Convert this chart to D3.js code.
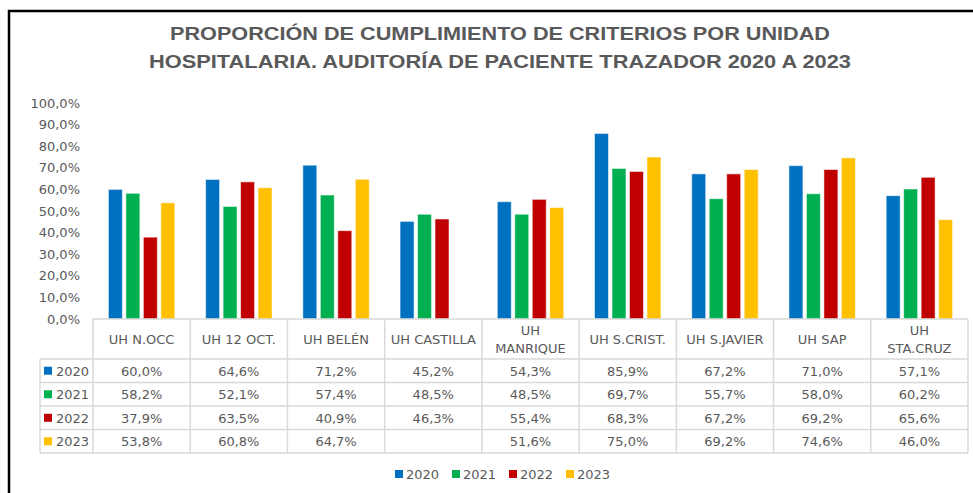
<!DOCTYPE html>
<html>
<head>
<meta charset="utf-8">
<script src="https://cdn.jsdelivr.net/npm/d3@7"></script>
<style>
  body { margin: 0; background: #fff; }
  svg text { font-family: "DejaVu Sans", sans-serif; fill: #595959; }
</style>
</head>
<body>
<div class="svg_container"></div>
<script>
const WIDTH = 973;
const HEIGHT = 493;

// data
var categories = ["UH N.OCC", "UH 12 OCT.", "UH BELÉN", "UH CASTILLA", "UH\nMANRIQUE",
                  "UH S.CRIST.", "UH S.JAVIER", "UH SAP", "UH\nSTA.CRUZ"];
var years = ["2020", "2021", "2022", "2023"];
var values2020 = [60.0, 64.6, 71.2, 45.2, 54.3, 85.9, 67.2, 71.0, 57.1];
var values2021 = [58.2, 52.1, 57.4, 48.5, 48.5, 69.7, 55.7, 58.0, 60.2];
var values2022 = [37.9, 63.5, 40.9, 46.3, 55.4, 68.3, 67.2, 69.2, 65.6];
var values2023 = [53.8, 60.8, 64.7, null, 51.6, 75.0, 69.2, 74.6, 46.0];
var yTicks = [0, 10, 20, 30, 40, 50, 60, 70, 80, 90, 100];
var titleLines = ["PROPORCIÓN DE CUMPLIMIENTO DE CRITERIOS POR UNIDAD",
                  "HOSPITALARIA. AUDITORÍA DE PACIENTE TRAZADOR 2020 A 2023"];

var seriesValues = [values2020, values2021, values2022, values2023];
var colors = ["#0070C0", "#00B050", "#C00000", "#FFC000"];
var gridColor = "#d9d9d9";

var esLocale = d3.formatLocale({decimal: ",", thousands: ".", grouping: [3], currency: ["", "€"]});
var fmt = esLocale.format(".1f");
var pct = function(v) { return fmt(v) + "%"; };

var translate = function(x, y) {
  return "translate(" + x + "," + y + ")";
};

var _xScale = d3.scaleBand().domain(categories).range([93, 968]);
var _innerScale = d3.scaleBand().domain(years).range([0, _xScale.bandwidth()])
                    .paddingInner(0.2).paddingOuter(0.88);
var _yScale = d3.scaleLinear().domain([0, 100]).range([319, 103]);
var _rowScale = d3.scaleBand().domain(years).range([359, 453]);

var svg = d3.select('.svg_container').append('svg')
  .attr('width', WIDTH)
  .attr('height', HEIGHT);

// frame lines (top and left)
svg.append('path')
  .attr('d', "M9,493V11H973")
  .attr('fill', 'none')
  .attr('stroke', '#000')
  .attr('stroke-width', 2.5);

// title
svg.append('g').selectAll('text')
  .data(titleLines).enter().append('text')
  .attr('x', 500)
  .attr('y', function(d, i) { return 39.5 + i * 28; })
  .attr('text-anchor', 'middle')
  .style('font-family', '"Liberation Sans", sans-serif')
  .style('font-weight', 'bold')
  .style('font-size', '19px')
  .attr('textLength', function(d, i) { return i == 0 ? 660 : 702; })
  .attr('lengthAdjust', 'spacingAndGlyphs')
  .text(function(d) { return d; });

// y axis
var yAxis = d3.axisLeft(_yScale)
  .tickValues(yTicks)
  .tickSize(0)
  .tickPadding(13)
  .tickFormat(pct);

var yg = svg.append('g')
  .attr('transform', translate(93, 0))
  .call(yAxis);
yg.select('.domain').remove();
yg.selectAll('text')
  .style('font-family', '"DejaVu Sans", sans-serif')
  .style('font-size', '13px')
  .attr('fill', '#595959');

// bars
years.forEach(function(year, s) {
  svg.append('g').selectAll('rect')
    .data(seriesValues[s].map(function(v, i) { return {c: categories[i], v: v}; })
          .filter(function(d) { return d.v != null; }))
    .enter().append('rect')
    .attr('x', function(d) { return _xScale(d.c) + _innerScale(year); })
    .attr('y', function(d) { return _yScale(d.v); })
    .attr('width', _innerScale.bandwidth())
    .attr('height', function(d) { return _yScale(0) - _yScale(d.v); })
    .attr('fill', colors[s])
    .attr('stroke', '#ffffff')
    .attr('stroke-opacity', 0.55)
    .attr('stroke-width', 1);
});

// data table
var table = svg.append('g').attr('class', 'table');
var x0 = _xScale.range()[0], x1 = _xScale.range()[1];
var tableTop = _yScale(0), headBottom = _rowScale.range()[0], tableBottom = _rowScale.range()[1];
var keyLeft = 40;

var hLines = [{y: tableTop, xa: x0}].concat(
  years.map(function(y) { return {y: _rowScale(y), xa: keyLeft}; }),
  [{y: tableBottom, xa: keyLeft}]);
table.selectAll('line.h').data(hLines).enter().append('line')
  .attr('class', 'h')
  .attr('x1', function(d) { return d.xa; }).attr('x2', x1)
  .attr('y1', function(d) { return d.y; }).attr('y2', function(d) { return d.y; })
  .attr('stroke', gridColor).attr('stroke-width', 1.5);

var vLines = categories.map(function(c) { return _xScale(c); }).concat([x1]);
table.selectAll('line.v').data(vLines).enter().append('line')
  .attr('class', 'v')
  .attr('x1', function(d) { return d; }).attr('x2', function(d) { return d; })
  .attr('y1', tableTop).attr('y2', tableBottom)
  .attr('stroke', gridColor).attr('stroke-width', 1.5);
table.append('line')
  .attr('x1', keyLeft).attr('x2', keyLeft)
  .attr('y1', headBottom).attr('y2', tableBottom)
  .attr('stroke', gridColor).attr('stroke-width', 1.5);

// header labels
table.selectAll('text.head').data(categories).enter().append('text')
  .attr('class', 'head')
  .attr('text-anchor', 'middle')
  .style('font-size', '13px')
  .each(function(d) {
    var lines = d.split("\n");
    var cx = _xScale(d) + _xScale.bandwidth() / 2;
    var mid = (tableTop + headBottom) / 2;
    d3.select(this).selectAll('tspan').data(lines).enter().append('tspan')
      .attr('x', cx)
      .attr('y', function(l, i) { return mid + 4.5 + (i - (lines.length - 1) / 2) * 18; })
      .text(function(l) { return l; });
  });

// row keys
years.forEach(function(year, s) {
  var cy = _rowScale(year) + _rowScale.bandwidth() / 2;
  table.append('rect')
    .attr('x', 44).attr('y', cy - 4)
    .attr('width', 8).attr('height', 8)
    .attr('fill', colors[s]);
  table.append('text')
    .attr('x', 56).attr('y', cy + 5)
    .style('font-size', '13px')
    .text(year);

  table.append('g').selectAll('text')
    .data(seriesValues[s].map(function(v, i) { return {c: categories[i], v: v}; })
          .filter(function(d) { return d.v != null; }))
    .enter().append('text')
    .attr('x', function(d) { return _xScale(d.c) + _xScale.bandwidth() / 2; })
    .attr('y', cy + 5)
    .attr('text-anchor', 'middle')
    .style('font-size', '13px')
    .text(function(d) { return pct(d.v); });
});

// legend
var legend = svg.append('g').attr('transform', translate(395, 474));
legend.selectAll('g').data(years).enter().append('g')
  .attr('transform', function(d, i) { return translate(i * 57, 0); })
  .each(function(d, i) {
    var g = d3.select(this);
    g.append('rect').attr('x', 0).attr('y', -4).attr('width', 8).attr('height', 8)
      .attr('fill', colors[i]);
    g.append('text').attr('x', 11).attr('y', 5)
      .style('font-size', '13px')
      .text(d);
  });
</script>
</body>
</html>
